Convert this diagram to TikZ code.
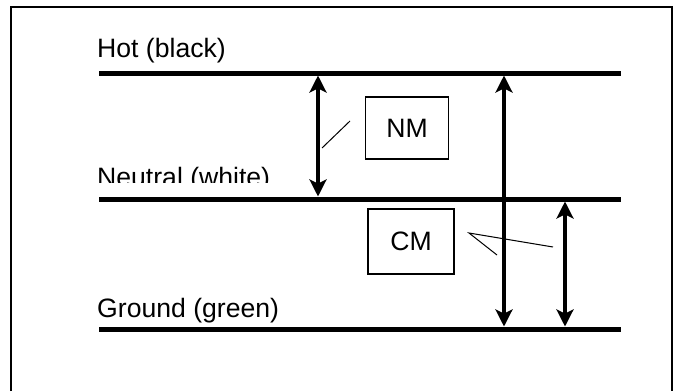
\documentclass[tikz,border=0pt]{standalone}
\usepackage{fontspec}
\setmainfont{Liberation Sans}
\usetikzlibrary{arrows.meta}
\begin{document}
\begin{tikzpicture}[x=1pt,y=-1pt,
  wire/.style={line width=5pt},
  vdarrow/.style={line width=4pt,{Stealth[length=17pt,width=17pt,inset=4pt]}-{Stealth[length=17pt,width=17pt,inset=4pt]}},
  leader/.style={line width=1pt},
  lbl/.style={anchor=base west,inner sep=0pt,font=\fontsize{26.6}{30}\selectfont},
  tagbox/.style={draw,line width=1.2pt,inner sep=0pt,font=\fontsize{26.6}{30}\selectfont}]
\useasboundingbox (0,0) rectangle (682,391);
% frame
\draw[line width=2pt] (11,391) -- (11,7) -- (672,7) -- (672,391);
% wires
\coordinate (hotL) at (99,73);  \coordinate (hotR) at (621,73);
\coordinate (neuL) at (99,199); \coordinate (neuR) at (621,199);
\coordinate (gndL) at (99,329); \coordinate (gndR) at (621,329);
\draw[wire] (hotL) -- (hotR);
\draw[wire] (neuL) -- (neuR);
\draw[wire] (gndL) -- (gndR);
% labels
\node[lbl] (hot) at (97,57) {Hot (black)};
\begin{scope}
  \clip (90,150) rectangle (320,182.5);
  \node[lbl] (neu) at (97,186) {Neutral (white)};
\end{scope}
\node[lbl] (gnd) at (97,317) {Ground (green)};
% boxes
\node[tagbox,minimum width=83pt,minimum height=62pt] (nm) at (407,128) {NM};
\node[tagbox,minimum width=86pt,minimum height=65pt] (cm) at (411,241.5) {CM};
% arrows
\coordinate (a1t) at (318,75.5); \coordinate (a1b) at (318,196.5);
\coordinate (a2t) at (504,75.5); \coordinate (a2b) at (504,326.5);
\coordinate (a3t) at (565,201.5); \coordinate (a3b) at (565,326.5);
\draw[vdarrow] (a1t) -- (a1b);
\draw[vdarrow] (a2t) -- (a2b);
\draw[vdarrow] (a3t) -- (a3b);
% leaders
\coordinate (nmA) at (322,148); \coordinate (nmB) at (350,121);
\draw[leader] (nmA) -- (nmB);
\coordinate (cmA) at (469,233); \coordinate (cmB) at (553,247); \coordinate (cmC) at (497,255);
\draw[leader] (cmB) -- (cmA) -- (cmC);
\end{tikzpicture}
\end{document}
